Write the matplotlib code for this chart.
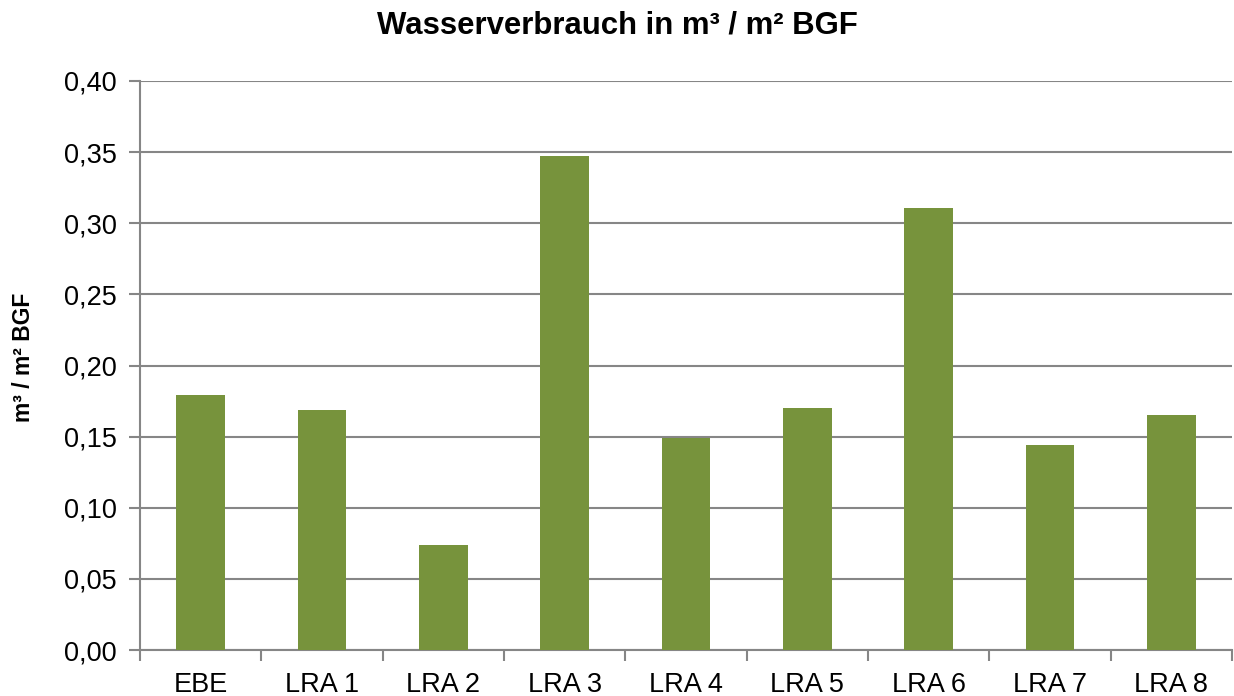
import matplotlib
matplotlib.use("Agg")
import matplotlib.pyplot as plt
import numpy as np
from matplotlib.ticker import FixedLocator, FuncFormatter

plt.rcParams['font.family'] = ['Liberation Sans', 'DejaVu Sans']

# data
categories = ['EBE', 'LRA 1', 'LRA 2', 'LRA 3', 'LRA 4', 'LRA 5', 'LRA 6', 'LRA 7', 'LRA 8']
values = [0.179, 0.169, 0.074, 0.347, 0.149, 0.170, 0.311, 0.144, 0.165]
yticks = [0.0, 0.05, 0.10, 0.15, 0.20, 0.25, 0.30, 0.35, 0.40]

grid_col = '#868686'
bar_col = '#77933C'

fig = plt.figure(figsize=(12.34, 6.96), dpi=100)
ax = fig.add_axes([140/1234, 1-650/696, 1092/1234, 569/696])

x = np.arange(len(categories))
ax.bar(x, values, width=0.4, color=bar_col, zorder=3)

ax.set_xlim(-0.5, len(categories) - 0.5)
ax.set_ylim(0, 0.40)
ax.set_yticks(yticks)
ax.yaxis.set_major_formatter(FuncFormatter(lambda v, p: f"{v:.2f}".replace('.', ',')))
ax.yaxis.grid(True, color=grid_col, linewidth=1.5, zorder=0)

ax.set_xticks(x)
ax.set_xticklabels(categories)
ax.tick_params(axis='x', which='major', length=0, pad=16, labelsize=19.5)
ax.xaxis.set_minor_locator(FixedLocator(np.arange(-0.5, len(categories), 1.0)))
ax.tick_params(axis='x', which='minor', length=8, width=1.5, color=grid_col)
ax.tick_params(axis='y', length=8, width=1.5, color=grid_col, labelsize=19.5, pad=9)

for s in ['top', 'right']:
    ax.spines[s].set_visible(False)
for s in ['left', 'bottom']:
    ax.spines[s].set_color(grid_col)
    ax.spines[s].set_linewidth(1.5)

fig.text(0.5, 1-25/696, 'Wasserverbrauch in m³ / m² BGF', ha='center', va='center',
         fontsize=22.4, fontweight='bold')
fig.text(24/1234, 1-357/696, 'm³ / m² BGF', ha='center', va='center', rotation=90,
         fontsize=16.5, fontweight='bold')

fig.savefig('out.png', dpi=100)
